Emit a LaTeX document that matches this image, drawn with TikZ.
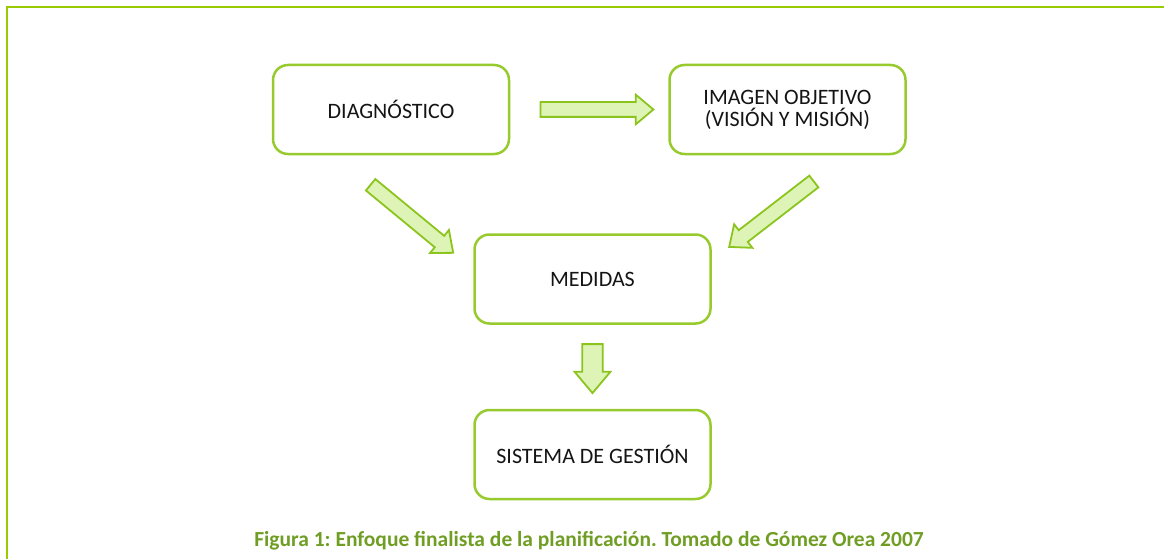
\documentclass[tikz,border=0pt]{standalone}
\usepackage{fontspec}
\setmainfont{Carlito}
\frenchspacing
\usetikzlibrary{shapes.arrows}

\definecolor{marcoverde}{RGB}{153,204,0}
\definecolor{cajaverde}{RGB}{150,202,45}
\definecolor{flechafondo}{RGB}{221,244,182}
\definecolor{flechaborde}{RGB}{140,196,30}
\definecolor{titverde}{RGB}{112,158,36}

\tikzset{
    caja/.style={draw=cajaverde, line width=2.5pt, rounded corners=15pt, minimum width=236pt, minimum height=89pt, align=center, text=black!92, font=\fontsize{22}{22}\selectfont},
    flecha/.style={single arrow, draw=flechaborde, fill=flechafondo, line width=1.8pt, inner xsep=0pt, inner ysep=6.5pt, single arrow head extend=7.5pt, single arrow tip angle=80},
    marco/.style={draw=marcoverde, line width=2pt},
    titulo/.style={text=titverde, font=\bfseries\fontsize{21.5}{21.5}\selectfont}
    }

\begin{document}
\begin{tikzpicture}[x=1pt, y=-1pt]
                \useasboundingbox (0,0) rectangle (1164,559);
                % El marco
                \draw[marco] (7,559) -- (7,7) -- (1164,7);
                % Las cajas
                \node[caja] (diag) at (391,109.5) {DIAGNÓSTICO};
                \node[caja] (img) at (787.5,109.5) {IMAGEN OBJETIVO\\(VISIÓN Y MISIÓN)};
                \node[caja] (med) at (592.5,279) {MEDIDAS};
                \node[caja] (sis) at (592.5,454.5) {SISTEMA DE GESTIÓN};
                % Las flechas
                \node[flecha, minimum height=113pt] (f1) at (592.5,109.5) {};
                \node[flecha, minimum height=107pt, rotate=-39.5] (f2) at (408.5,216) {};
                \node[flecha, minimum height=107pt, rotate=217.7] (f3) at (775,211.5) {};
                \node[flecha, minimum height=49pt, minimum width=36pt, inner ysep=9pt, rotate=-90] (f4) at (592.5,362.5) {};
                % El pie
                \node[titulo, anchor=base] (pie) at (589,546) {Figura 1: Enfoque finalista de la planificación. Tomado de Gómez Orea 2007};
\end{tikzpicture}
\end{document}
